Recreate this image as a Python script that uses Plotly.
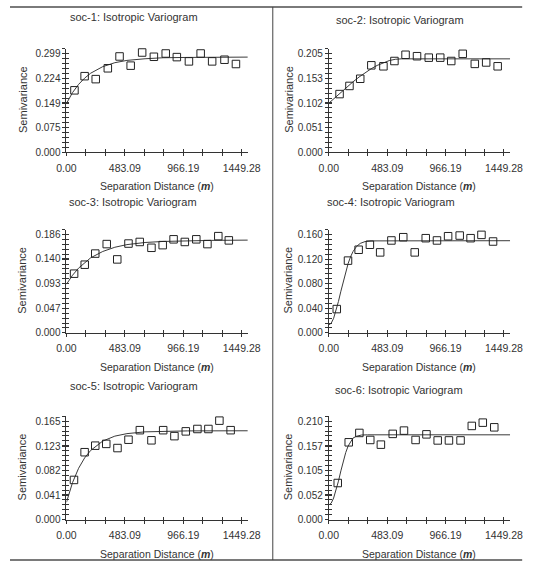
import plotly.graph_objects as go

# ---------------- data ----------------
titles = ["soc-1: Isotropic Variogram", "soc-2: Isotropic Variogram",
          "soc-3: Isotropic Variogram", "soc-4: Isotropic Variogram",
          "soc-5: Isotropic Variogram", "soc-6: Isotropic Variogram"]

xtick_labels = ["0.00", "483.09", "966.19", "1449.28"]

yticks_soc1 = ["0.000", "0.075", "0.149", "0.224", "0.299"]
yticks_soc2 = ["0.000", "0.051", "0.102", "0.153", "0.205"]
yticks_soc3 = ["0.000", "0.047", "0.093", "0.140", "0.186"]
yticks_soc4 = ["0.000", "0.040", "0.080", "0.120", "0.160"]
yticks_soc5 = ["0.000", "0.041", "0.082", "0.123", "0.165"]
yticks_soc6 = ["0.000", "0.052", "0.105", "0.157", "0.210"]

lags_soc1 = [66, 150, 242, 342, 439, 531, 626, 723, 821, 913, 1013, 1110, 1205, 1307, 1402]
semivar_soc1 = [0.188, 0.231, 0.222, 0.255, 0.291, 0.263, 0.303, 0.290, 0.300, 0.289,
                0.276, 0.300, 0.276, 0.281, 0.268]
lags_soc2 = [89, 171, 260, 352, 452, 543, 635, 730, 827, 922, 1013, 1108, 1208, 1302, 1397]
semivar_soc2 = [0.121, 0.138, 0.153, 0.181, 0.179, 0.190, 0.203, 0.200, 0.197, 0.197,
                0.190, 0.205, 0.184, 0.187, 0.179]
lags_soc3 = [63, 151, 238, 333, 420, 513, 606, 703, 796, 886, 979, 1074, 1166, 1256, 1343]
semivar_soc3 = [0.112, 0.129, 0.150, 0.168, 0.139, 0.169, 0.172, 0.161, 0.166, 0.177,
                0.172, 0.177, 0.168, 0.183, 0.175]
lags_soc4 = [66, 159, 247, 340, 425, 518, 616, 711, 802, 895, 987, 1083, 1173, 1263, 1359]
semivar_soc4 = [0.0387, 0.1176, 0.1353, 0.1434, 0.131, 0.1504, 0.1557, 0.131, 0.1541, 0.1504,
                0.1573, 0.1584, 0.1541, 0.1595, 0.1487]
lags_soc5 = [62, 150, 238, 329, 422, 513, 607, 703, 800, 893, 987, 1083, 1174, 1265, 1358]
semivar_soc5 = [0.0665, 0.113, 0.124, 0.127, 0.120, 0.134, 0.150, 0.133, 0.150, 0.140,
                0.148, 0.152, 0.152, 0.166, 0.150]
lags_soc6 = [74, 165, 253, 343, 431, 529, 622, 718, 808, 901, 994, 1090, 1183, 1274, 1369]
semivar_soc6 = [0.078, 0.165, 0.185, 0.170, 0.160, 0.183, 0.190, 0.170, 0.182, 0.169,
                0.169, 0.169, 0.200, 0.207, 0.197]

model_h_soc1 = [0, 25, 50, 100, 150, 200, 300, 400, 500, 650, 800, 1000, 1200, 1500]
model_soc1 = [0.148, 0.165, 0.181, 0.206, 0.225, 0.240, 0.260, 0.272, 0.279, 0.284,
              0.287, 0.288, 0.289, 0.289]
model_h_soc2 = [0, 50, 100, 150, 200, 250, 300, 350, 400, 450, 500, 550, 600, 1500]
model_soc2 = [0.102, 0.1135, 0.1249, 0.1360, 0.1465, 0.1565, 0.1656, 0.1738, 0.1808,
              0.1866, 0.1909, 0.1936, 0.1945, 0.1945]
model_h_soc3 = [0, 25, 50, 100, 150, 200, 300, 400, 500, 650, 800, 1000, 1200, 1500]
model_soc3 = [0.092, 0.101, 0.109, 0.1225, 0.133, 0.142, 0.154, 0.162, 0.167, 0.171,
              0.173, 0.1745, 0.175, 0.1755]
model_h_soc4 = [0, 20, 40, 60, 80, 100, 120, 140, 160, 180, 200, 230, 260, 300, 350, 1500]
model_soc4 = [0.013, 0.0157, 0.0237, 0.036, 0.0512, 0.0678, 0.0843, 0.0996, 0.1129,
              0.1238, 0.1322, 0.1408, 0.1456, 0.1486, 0.1497, 0.150]
model_h_soc5 = [0, 25, 50, 100, 150, 200, 300, 400, 500, 650, 800, 1000, 1500]
model_soc5 = [0.029, 0.047, 0.062, 0.086, 0.1034, 0.116, 0.1317, 0.140, 0.1442, 0.1472,
              0.1483, 0.1488, 0.149]
model_h_soc6 = [0, 20, 40, 60, 80, 100, 120, 140, 160, 180, 200, 230, 270, 320, 1500]
model_soc6 = [0.031, 0.035, 0.046, 0.062, 0.082, 0.104, 0.125, 0.143, 0.157, 0.167,
              0.174, 0.178, 0.1805, 0.181, 0.181]

panels = [
    dict(lags=lags_soc1, semivar=semivar_soc1, mh=model_h_soc1, mg=model_soc1, yticks=yticks_soc1),
    dict(lags=lags_soc2, semivar=semivar_soc2, mh=model_h_soc2, mg=model_soc2, yticks=yticks_soc2),
    dict(lags=lags_soc3, semivar=semivar_soc3, mh=model_h_soc3, mg=model_soc3, yticks=yticks_soc3),
    dict(lags=lags_soc4, semivar=semivar_soc4, mh=model_h_soc4, mg=model_soc4, yticks=yticks_soc4),
    dict(lags=lags_soc5, semivar=semivar_soc5, mh=model_h_soc5, mg=model_soc5, yticks=yticks_soc5),
    dict(lags=lags_soc6, semivar=semivar_soc6, mh=model_h_soc6, mg=model_soc6, yticks=yticks_soc6),
]

# ---------------- layout / style ----------------
W, H = 539, 569
COL_X0 = [59.0, 333.0]          # pixel of distance 0
ROW_Y0 = [153.0, 336.0, 525.0]  # pixel of semivariance 0
AX_W = 189.4
AX_H = 104.5
X_MAX = 1500.0
TITLE_POS = [(130, 16), (407, 19), (129, 204), (398, 203.5), (130, 389.5), (406, 393.5)]
YT_X = [13.0, 290.7]
INK = "#333333"
FONT = "Liberation Sans, Arial, sans-serif"

fig = go.Figure()
layout = dict(width=W, height=H, margin=dict(l=0, r=0, t=0, b=0),
              paper_bgcolor="white", plot_bgcolor="white", showlegend=False)
annotations = []

xvals = [float(t) for t in xtick_labels]


def ax_name(kind, n):
    return f"{kind}axis" if n == 1 else f"{kind}axis{n}"


def ax_ref(kind, n):
    return kind if n == 1 else f"{kind}{n}"


for i, p in enumerate(panels):
    r, c = divmod(i, 2)
    n = i + 1
    o = n + 6
    x0 = COL_X0[c]
    y0 = ROW_Y0[r]
    dom_x = [x0 / W, (x0 + AX_W) / W]
    dom_y = [(H - y0) / H, (H - y0 + AX_H) / H]
    yvals = [float(t) for t in p["yticks"]]
    ytop = yvals[-1] * 1.05

    tick_common = dict(tickwidth=1, tickcolor=INK, ticklen=3)
    layout[ax_name("x", n)] = dict(
        domain=dom_x, anchor=ax_ref("y", n), range=[0, X_MAX],
        showline=True, linecolor=INK, linewidth=1, showgrid=False, zeroline=False,
        tickmode="array", tickvals=xvals, ticktext=xtick_labels, ticks="outside",
        ticklabelstandoff=3,
        tickfont=dict(size=10.5, color=INK, family=FONT), fixedrange=True,
        minor=dict(ticks="outside", tickmode="linear", tick0=0, dtick=xvals[1] / 3, **tick_common),
        **tick_common)
    layout[ax_name("y", n)] = dict(
        domain=dom_y, anchor=ax_ref("x", n), range=[0, ytop],
        showline=True, linecolor=INK, linewidth=1, showgrid=False, zeroline=False,
        tickmode="array", tickvals=yvals, ticktext=p["yticks"], ticks="outside",
        tickfont=dict(size=10, color=INK, family=FONT), fixedrange=True,
        minor=dict(ticks="outside", tickmode="linear", tick0=0, dtick=yvals[-1] / 20, **tick_common),
        **tick_common)
    # overlay axes carrying the inner half of the crossing tick marks
    layout[ax_name("x", o)] = dict(
        overlaying=ax_ref("x", n), anchor=ax_ref("y", n), range=[0, X_MAX],
        showline=False, showgrid=False, zeroline=False, showticklabels=False,
        tickmode="array", tickvals=xvals, ticks="inside", fixedrange=True,
        minor=dict(ticks="inside", tickmode="linear", tick0=0, dtick=xvals[1] / 3, **tick_common),
        **tick_common)
    layout[ax_name("y", o)] = dict(
        overlaying=ax_ref("y", n), anchor=ax_ref("x", n), range=[0, ytop],
        showline=False, showgrid=False, zeroline=False, showticklabels=False,
        tickmode="array", tickvals=yvals, ticks="inside", fixedrange=True,
        minor=dict(ticks="inside", tickmode="linear", tick0=0, dtick=yvals[-1] / 20, **tick_common),
        **tick_common)

    fig.add_trace(go.Scatter(x=[None], y=[None], xaxis=ax_ref("x", o), yaxis=ax_ref("y", o),
                             mode="markers", hoverinfo="skip", showlegend=False))
    fig.add_trace(go.Scatter(x=p["mh"], y=p["mg"], mode="lines",
                             line=dict(color="#3a3a3a", width=1),
                             xaxis=ax_ref("x", n), yaxis=ax_ref("y", n)))
    fig.add_trace(go.Scatter(x=p["lags"], y=p["semivar"], mode="markers",
                             marker=dict(symbol="square-open", size=7.5, color="#222222",
                                         line=dict(width=1, color="#222222")),
                             cliponaxis=False,
                             xaxis=ax_ref("x", n), yaxis=ax_ref("y", n)))

    tx, ty = TITLE_POS[i]
    annotations.append(dict(text=titles[i], x=tx / W, y=1 - ty / H, xref="paper", yref="paper",
                            xanchor="center", yanchor="middle", showarrow=False,
                            font=dict(size=11, color=INK, family=FONT)))
    annotations.append(dict(text="Semivariance", x=YT_X[c] / W, y=1 - (y0 - AX_H / 2 - 1) / H,
                            xref="paper", yref="paper", xanchor="center", yanchor="middle",
                            textangle=-90, showarrow=False,
                            font=dict(size=11, color=INK, family=FONT)))
    annotations.append(dict(text="Separation Distance (<b><i>m</i></b>)",
                            x=(x0 + AX_W / 2) / W, y=1 - (y0 + 34.5) / H,
                            xref="paper", yref="paper", xanchor="center", yanchor="middle",
                            showarrow=False, font=dict(size=10.5, color=INK, family=FONT)))

layout["annotations"] = annotations
layout["shapes"] = [
    dict(type="line", xref="paper", yref="paper", x0=0, x1=535 / W, y0=1 - 6 / H, y1=1 - 6 / H,
         line=dict(color="#7a7a7a", width=2)),
    dict(type="line", xref="paper", yref="paper", x0=0, x1=535 / W, y0=1 - 566 / H, y1=1 - 566 / H,
         line=dict(color="#7a7a7a", width=2)),
    dict(type="line", xref="paper", yref="paper", x0=274.5 / W, x1=274.5 / W,
         y0=1 - 6 / H, y1=1 - 566 / H, line=dict(color="#444444", width=1)),
]
fig.update_layout(**layout)
fig.write_html("out.html")
